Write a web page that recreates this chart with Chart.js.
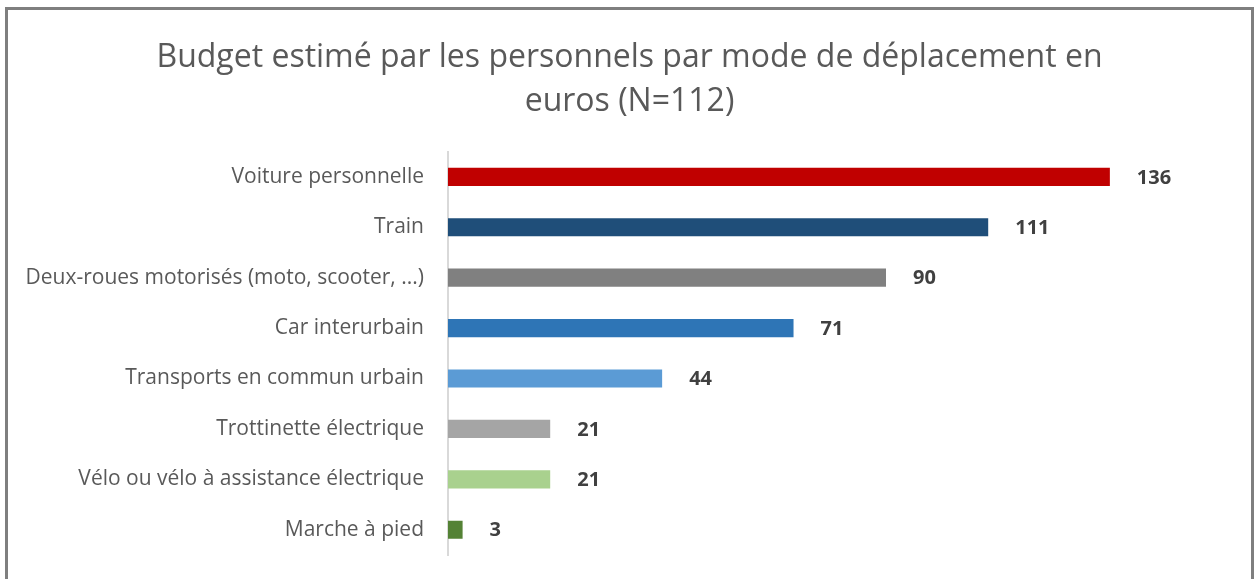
<!DOCTYPE html>
<html>
<head>
<meta charset="utf-8">
<script src="https://cdn.jsdelivr.net/npm/chart.js"></script>
<style>
  html, body { margin: 0; padding: 0; background: #fff; overflow: hidden; }
  #frame {
    position: absolute; left: 5px; top: 7px;
    width: 1243px; height: 640px;
    border: 3px solid #7f7f7f;
  }
  #budget { display: block; }
</style>
</head>
<body>
<div id="frame"><canvas id="budget" width="1243" height="569"></canvas></div>
<script>
// ===== データ =====
const titleLines = ['Budget estimé par les personnels par mode de déplacement en', 'euros (N=112)'];
const categories = [
    'Voiture personnelle',
    'Train',
    'Deux-roues motorisés (moto, scooter, ...)',
    'Car interurbain',
    'Transports en commun urbain',
    'Trottinette électrique',
    'Vélo ou vélo à assistance électrique',
    'Marche à pied'
];
const budgets = [136, 111, 90, 71, 44, 21, 21, 3];
const barColors = ['#C00000', '#1F4E79', '#808080', '#2E75B6', '#5B9BD5', '#A5A5A5', '#A9D18E', '#548235'];

const FONT = '"Open Sans", "Noto Sans", sans-serif';

// 値ラベル（棒の右側）
const valueLabels = {
    id: 'valueLabels',
    afterDatasetsDraw(chart) {
        const ctx = chart.ctx;
        const meta = chart.getDatasetMeta(0);
        ctx.save();
        ctx.font = 'bold 20px ' + FONT;
        ctx.fillStyle = '#404040';
        ctx.textAlign = 'left';
        ctx.textBaseline = 'middle';
        meta.data.forEach((bar, i) => {
            ctx.fillText(String(budgets[i]), bar.x + 27, bar.y + 1);
        });
        ctx.restore();
    }
};

new Chart(document.getElementById('budget'), {
    type: 'bar',
    data: {
        labels: categories,
        datasets: [{
            data: budgets,
            backgroundColor: barColors,
            borderWidth: 0,
            barPercentage: 0.36,
            categoryPercentage: 1
        }]
    },
    options: {
        indexAxis: 'y',
        responsive: false,
        animation: false,
        layout: { padding: { left: 0, right: 0, top: 0, bottom: 24 } },
        plugins: {
            legend: { display: false },
            tooltip: { enabled: false },
            title: {
                display: true,
                text: titleLines,
                color: '#595959',
                font: { family: FONT, size: 32, weight: 'normal', lineHeight: 1.4 },
                padding: { top: 25, bottom: 27 }
            }
        },
        scales: {
            x: { display: false, min: 0, max: 165 },
            y: {
                afterFit(scale) {
                    scale.width = 440;
                    // ラベル高さによる自動余白は不要
                    scale.paddingTop = 0;
                    scale.paddingBottom = 0;
                },
                grid: { display: false, drawTicks: false },
                border: { display: true, color: '#d9d9d9', width: 2 },
                ticks: {
                    color: '#595959',
                    padding: 24,
                    font: { family: FONT, size: 21 }
                }
            }
        }
    },
    plugins: [valueLabels]
});
</script>
</body>
</html>
